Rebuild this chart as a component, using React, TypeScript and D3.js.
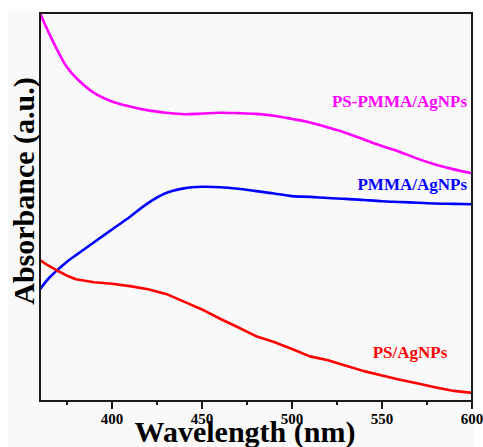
import React from "react";
import * as d3 from "d3";

const wavelengths = [360, 365, 370, 375, 380, 390, 400, 410, 420, 430, 440, 450, 460, 470, 480, 490, 500, 510, 520, 530, 540, 550, 560, 570, 580, 590, 600];

const psPmmaAg = [1.0, 0.948, 0.901, 0.86, 0.833, 0.794, 0.772, 0.759, 0.749, 0.743, 0.739, 0.741, 0.743, 0.742, 0.74, 0.735, 0.727, 0.718, 0.705, 0.691, 0.674, 0.657, 0.642, 0.624, 0.609, 0.597, 0.587];
const pmmaAg = [0.288, 0.317, 0.339, 0.359, 0.376, 0.409, 0.442, 0.475, 0.51, 0.536, 0.548, 0.552, 0.551, 0.547, 0.541, 0.535, 0.528, 0.526, 0.523, 0.521, 0.518, 0.515, 0.513, 0.511, 0.509, 0.508, 0.507];
const psAg = [0.363, 0.348, 0.335, 0.323, 0.314, 0.306, 0.302, 0.296, 0.288, 0.276, 0.256, 0.236, 0.212, 0.19, 0.167, 0.152, 0.134, 0.115, 0.105, 0.091, 0.077, 0.066, 0.055, 0.045, 0.035, 0.026, 0.021];

const majorTicks = [400, 450, 500, 550, 600];
const minorTicks = [375, 425, 475, 525, 575];

const seriesNames = ["PS-PMMA/AgNPs", "PMMA/AgNPs", "PS/AgNPs"];
const seriesColors = ["#ff00ff", "#0000ff", "#ff0000"];

const W = 483;
const H = 447;
const left = 40;
const right = 472;
const top = 13;
const bottom = 401;
const FONT = "'Liberation Serif', 'Times New Roman', serif";

export default function App() {
  const x = d3.scaleLinear().domain([360, 600]).range([left, right]);
  const y = d3.scaleLinear().domain([0, 1]).range([bottom, top]);

  const smooth = d3
    .line<number>()
    .x((_, i) => x(wavelengths[i]))
    .y((d) => y(d))
    .curve(d3.curveCatmullRom.alpha(0.5));
  const straight = d3
    .line<number>()
    .x((_, i) => x(wavelengths[i]))
    .y((d) => y(d))
    .curve(d3.curveLinear);

  const paths = [smooth(psPmmaAg), smooth(pmmaAg), straight(psAg)];

  return (
    <svg
      width={W}
      height={H}
      style={{ position: "absolute", left: 0, top: 0, display: "block" }}
    >
      <rect x={0} y={0} width={W} height={H} fill="#ffffff" />
      <rect x={8} y={11} width={466} height={H - 11} fill="#f9f9f9" />
      <defs>
        <clipPath id="plotclip">
          <rect x={left} y={top - 2} width={right - left} height={bottom - top + 2} />
        </clipPath>
      </defs>
      <g clipPath="url(#plotclip)">
        {paths.map((p, i) => (
          <path key={i} d={p || ""} fill="none" stroke={seriesColors[i]} strokeWidth={2.6} strokeLinejoin="round" />
        ))}
      </g>
      <rect
        x={left}
        y={top}
        width={right - left}
        height={bottom - top}
        fill="none"
        stroke="#1a1a1a"
        strokeWidth={2}
      />
      {majorTicks.map((t) => (
        <line key={"M" + t} x1={x(t)} x2={x(t)} y1={bottom} y2={bottom + 8} stroke="#1a1a1a" strokeWidth={2} />
      ))}
      {minorTicks.map((t) => (
        <line key={"m" + t} x1={x(t)} x2={x(t)} y1={bottom} y2={bottom + 4} stroke="#1a1a1a" strokeWidth={2} />
      ))}
      {majorTicks.map((t) => (
        <text
          key={"l" + t}
          x={x(t)}
          y={424}
          textAnchor="middle"
          fontFamily={FONT}
          fontWeight="bold"
          fontSize={15}
          fill="#000"
        >
          {t}
        </text>
      ))}
      <text
        x={245}
        y={442}
        textAnchor="middle"
        fontFamily={FONT}
        fontWeight="bold"
        fontSize={30}
        fill="#000"
      >
        Wavelength (nm)
      </text>
      <text
        transform="translate(34,191) rotate(-90)"
        textAnchor="middle"
        fontFamily={FONT}
        fontWeight="bold"
        fontSize={30}
        fill="#000"
      >
        Absorbance  (a.u.)
      </text>
      <text x={467} y={107} textAnchor="end" fontFamily={FONT} fontWeight="bold" fontSize={17} fill={seriesColors[0]}>
        {seriesNames[0]}
      </text>
      <text x={467} y={190} textAnchor="end" fontFamily={FONT} fontWeight="bold" fontSize={17} fill={seriesColors[1]}>
        {seriesNames[1]}
      </text>
      <text x={410} y={358} textAnchor="middle" fontFamily={FONT} fontWeight="bold" fontSize={17} fill={seriesColors[2]}>
        {seriesNames[2]}
      </text>
    </svg>
  );
}
